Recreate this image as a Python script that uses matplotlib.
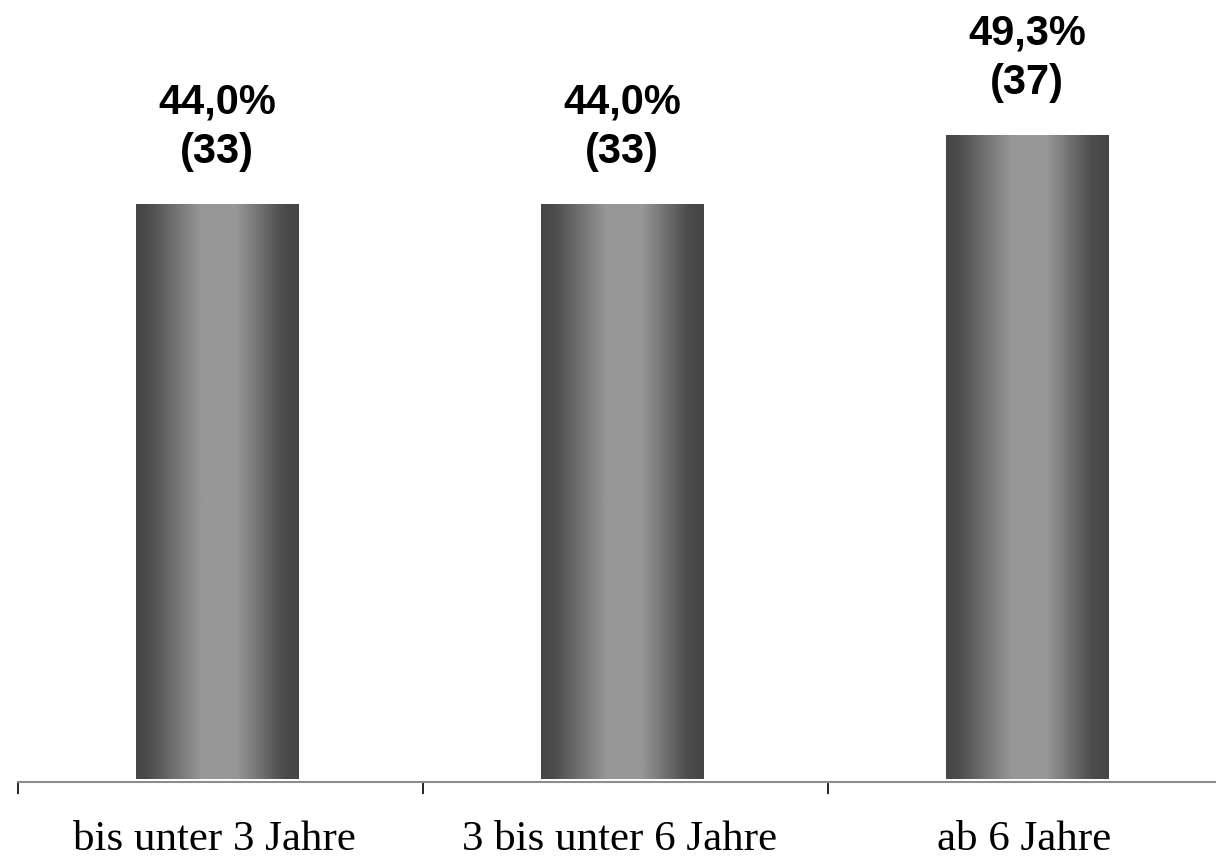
import matplotlib

matplotlib.use("Agg")
import matplotlib.pyplot as plt
import numpy as np

categories = ["bis unter 3 Jahre", "3 bis unter 6 Jahre", "ab 6 Jahre"]
percent = [44.0, 44.0, 49.3]
counts = [33, 33, 37]

W, H = 1216, 857
fig = plt.figure(figsize=(W / 100, H / 100), dpi=100)
ax = fig.add_axes([18 / W, 1 - 782 / H, 1 - 18 / W, 782 / H])

x = np.arange(len(categories))
shift = -0.009  # bars sit a touch left of the category centre
bars = ax.bar(x + shift, percent, width=0.4, color="none", edgecolor="none")

# horizontal grey gradient: dark edges, light middle
pos = np.linspace(0, 1, 256)
shade = np.interp(pos, [0, 0.08, 0.40, 0.62, 0.9, 1.0],
                  [0.27, 0.30, 0.59, 0.59, 0.30, 0.27])
grad = shade[np.newaxis, :]
for bar in bars:
    bx, by = bar.get_x(), bar.get_y()
    bw, bh = bar.get_width(), bar.get_height()
    im = ax.imshow(grad, cmap="gray", vmin=0, vmax=1, aspect="auto",
                   extent=[bx, bx + bw, by, by + bh], interpolation="bilinear",
                   zorder=2)
    im.set_clip_path(bar)

for xi, p, c in zip(x + shift, percent, counts):
    label = f"{p:.1f}".replace(".", ",") + f"%\n({c})"
    ax.annotate(label, (xi, p), xytext=(0, 23), textcoords="offset points",
                ha="center", va="bottom", fontsize=30, fontweight="bold",
                family="Liberation Sans", linespacing=1.3)

ax.set_xlim(-0.5, 2.458)
ax.set_ylim(-0.23, 59.6)

for side in ["top", "right", "left"]:
    ax.spines[side].set_visible(False)
ax.spines["bottom"].set_color("#8c8c8c")
ax.spines["bottom"].set_linewidth(1.5)
ax.set_yticks([])

ax.set_xticks(x - 0.015)
ax.set_xticklabels(categories, family="Liberation Serif", fontsize=31)
ax.tick_params(axis="x", which="major", length=0, pad=28)
ax.set_xticks([-0.5, 0.5, 1.5], minor=True)
ax.tick_params(axis="x", which="minor", length=8.6, width=1.2,
               color="black", direction="out")

fig.savefig("out.png", dpi=100)
